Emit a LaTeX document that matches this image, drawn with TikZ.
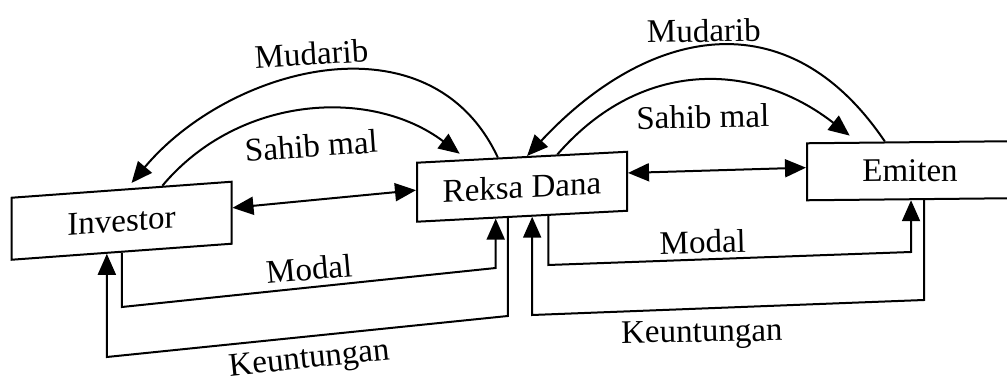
\documentclass[tikz,border=0pt]{standalone}
\usepackage{fontspec}
\setmainfont{Liberation Serif}
\usetikzlibrary{arrows.meta,calc}
\begin{document}
\begin{tikzpicture}[x=1pt,y=1pt,
  every node/.style={font=\fontsize{33}{40}\selectfont},
  party/.style={draw, line width=2pt, inner sep=0pt},
  tip/.style={-{Triangle[length=21pt,width=18pt]}},
  flow/.style={line width=2pt, tip},
  both/.style={line width=2pt, {Triangle[length=21pt,width=18pt]}-{Triangle[length=21pt,width=18pt]}},
  lbl/.style={inner sep=0pt, anchor=base}]
\useasboundingbox (0,0) rectangle (1007,382);
\clip (0,0) rectangle (1007,382);

% the three parties
\node[party, minimum width=220pt, minimum height=62pt, yslant=0.0727] (inv) at (121.5,161.25) {Investor};
\node[party, minimum width=210pt, minimum height=59pt, yslant=0.052] (rek) at (522,195.25) {Reksa Dana};
\node[party, minimum width=206pt, minimum height=57pt, yslant=0.01] (emi) at (910,211.25) {Emiten};

% attachment points on the box edges
\coordinate (invB1) at ($(inv.south west)!0.502!(inv.south east)$);
\coordinate (invB2) at ($(inv.south west)!0.434!(inv.south east)$);
\coordinate (rekB1) at ($(rek.south west)!0.376!(rek.south east)$);
\coordinate (rekB2) at ($(rek.south west)!0.433!(rek.south east)$);
\coordinate (rekB3) at ($(rek.south west)!0.548!(rek.south east)$);
\coordinate (rekB4) at ($(rek.south west)!0.624!(rek.south east)$);
\coordinate (emiB1) at ($(emi.south west)!0.505!(emi.south east)$);
\coordinate (emiB2) at ($(emi.south west)!0.568!(emi.south east)$);

\coordinate (invT1) at ($(inv.north west)!0.525!(inv.north east)$);
\coordinate (invT2) at ($(inv.north west)!0.684!(inv.north east)$);
\coordinate (rekT1) at ($(rek.north west)!0.386!(rek.north east)$);
\coordinate (rekT2) at ($(rek.north west)!0.24!(rek.north east)$);
\coordinate (rekT3) at ($(rek.north west)!0.524!(rek.north east)$);
\coordinate (rekT4) at ($(rek.north west)!0.667!(rek.north east)$);
\coordinate (emiT1) at ($(emi.north west)!0.379!(emi.north east)$);
\coordinate (emiT2) at ($(emi.north west)!0.248!(emi.north east)$);

\coordinate (invE) at ($(inv.south east)!0.576!(inv.north east)$);
\coordinate (rekW) at ($(rek.south west)!0.534!(rek.north west)$);
\coordinate (rekE) at ($(rek.south east)!0.636!(rek.north east)$);
\coordinate (emiW) at ($(emi.south west)!0.57!(emi.north west)$);

% two-way links
\draw[both] (invE) -- (rekW);
\draw[both] (rekE) -- (emiW);

% arcs above
\draw[flow, shorten >=7pt] (rekT1) to[out=115,in=50,looseness=1.1] (invT1);
\draw[flow, shorten >=9pt] (invT2) to[out=50,in=143,looseness=1.0] (rekT2);
\draw[flow] (emiT1) to[out=124,in=47,looseness=1.25] (rekT3);
\draw[flow, shorten >=10pt] (rekT4) to[out=49,in=142,looseness=1.1] (emiT2);

% capital and profit loops below
\draw[flow] (invB1) -- (invB1 |- 0,75) -- (rekB1 |- 0,114) -- (rekB1);
\draw[flow] (rekB2) -- (rekB2 |- 0,66) -- (invB2 |- 0,25) -- (invB2);
\draw[flow] (rekB4) -- (rekB4 |- 0,117) -- (emiB1 |- 0,130) -- (emiB1);
\draw[flow] (emiB2) -- (emiB2 |- 0,82) -- (rekB3 |- 0,67) -- (rekB3);

% labels
\node[lbl, rotate=3.5] (mudL) at (312,317) {Mudarib};
\node[lbl, rotate=4] (sahL) at (312,225) {Sahib mal};
\node[lbl, rotate=5] (modL) at (310,102) {Modal};
\node[lbl, rotate=6] (keuL) at (310,14) {Keuntungan};
\node[lbl, rotate=1] (mudR) at (704,340) {Mudarib};
\node[lbl, rotate=1] (sahR) at (703,254) {Sahib mal};
\node[lbl, rotate=1.5] (modR) at (703,129) {Modal};
\node[lbl, rotate=1] (keuR) at (702,40) {Keuntungan};
\end{tikzpicture}
\end{document}
